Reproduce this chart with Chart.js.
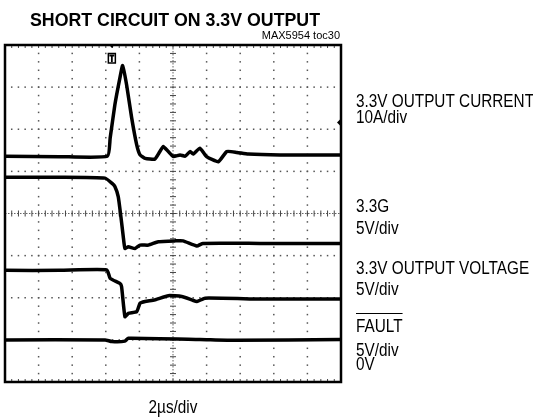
<!DOCTYPE html>
<html>
<head>
<meta charset="utf-8">
<script src="https://cdn.jsdelivr.net/npm/chart.js@4/dist/chart.umd.min.js"></script>
<style>
  html, body { margin: 0; padding: 0; background: #fff; }
  #wrap { width: 533px; height: 418px; }
</style>
</head>
<body>
<div id="wrap"><canvas id="scope" width="533" height="418"></canvas></div>
<script>
// time axis in divisions (2us/div), amplitude in screen divisions (0 = bottom)
const currentT = [0, 1.64, 3.05, 3.13, 3.27, 3.42, 3.50, 3.62, 3.77, 3.92, 4.02, 4.17, 4.46, 4.61, 4.71, 4.86, 5.01, 5.21, 5.36, 5.51, 5.60, 5.80, 6.00, 6.35, 6.60, 6.90, 7.24, 8.19, 10];
const currentV = [5.36, 5.35, 5.36, 5.79, 6.58, 7.22, 7.51, 7.05, 6.27, 5.63, 5.39, 5.31, 5.29, 5.47, 5.59, 5.47, 5.35, 5.39, 5.36, 5.47, 5.41, 5.55, 5.35, 5.23, 5.47, 5.45, 5.41, 5.39, 5.39];

const gateT = [0, 1.64, 2.98, 3.18, 3.27, 3.37, 3.45, 3.52, 3.57, 3.67, 3.87, 4.02, 4.27, 4.56, 5.06, 5.30, 5.71, 5.89, 7.59, 10];
const gateV = [4.86, 4.86, 4.84, 4.72, 4.64, 4.40, 3.92, 3.45, 3.17, 3.21, 3.17, 3.25, 3.25, 3.33, 3.35, 3.35, 3.23, 3.29, 3.29, 3.29];

const voutT = [0, 1.64, 3.03, 3.13, 3.42, 3.47, 3.57, 3.67, 3.92, 4.02, 4.17, 4.46, 4.86, 5.26, 5.56, 5.71, 5.95, 7.59, 10];
const voutV = [2.65, 2.65, 2.66, 2.46, 2.34, 2.26, 1.55, 1.63, 1.67, 1.87, 1.91, 1.95, 2.05, 2.03, 1.95, 1.91, 1.99, 1.97, 1.97];

const faultT = [0, 2.98, 3.18, 3.57, 3.67, 5.80, 6.85, 10];
const faultV = [1.00, 1.00, 0.96, 0.97, 1.04, 1.01, 0.99, 1.01];

const TRIGGER_T = 3.18;
const CH1_MARK = 6.16;

const FONT = '"Liberation Sans", Arial, Helvetica, sans-serif';

function pts(xs, ys) {
  return xs.map((x, i) => ({ x: x, y: ys[i] }));
}

function trace(data) {
  return {
    data: data,
    borderColor: "#000",
    borderWidth: 3.5,
    pointRadius: 0,
    tension: 0.15,
    fill: false,
  };
}

function text(ctx, str, x, y, font, sx, align) {
  ctx.save();
  ctx.font = font;
  ctx.textAlign = align || "left";
  ctx.textBaseline = "alphabetic";
  ctx.translate(x, y);
  ctx.scale(sx, 1);
  ctx.fillText(str, 0, 0);
  ctx.restore();
}

const scopeGrid = {
  id: "scopeGrid",
  beforeDatasetsDraw(chart) {
    const ctx = chart.ctx;
    const xs = chart.scales.x, ys = chart.scales.y;
    const L = xs.getPixelForValue(0), R = xs.getPixelForValue(10);
    const T = ys.getPixelForValue(8), B = ys.getPixelForValue(0);
    ctx.save();
    ctx.fillStyle = "#555";
    // dotted division lines
    for (let i = 1; i < 10; i++) {
      if (i === 5) continue;
      const x = xs.getPixelForValue(i);
      for (let j = 1; j < 40; j++) {
        const y = ys.getPixelForValue(j / 5);
        ctx.fillRect(x - 0.75, y - 0.75, 1.5, 1.5);
      }
    }
    for (let j = 1; j < 8; j++) {
      if (j === 4) continue;
      const y = ys.getPixelForValue(j);
      for (let i = 1; i < 50; i++) {
        const x = xs.getPixelForValue(i / 5);
        ctx.fillRect(x - 0.75, y - 0.75, 1.5, 1.5);
      }
    }
    // center cross with minor ticks
    const cx = xs.getPixelForValue(5), cy = ys.getPixelForValue(4);
    ctx.strokeStyle = "#666";
    ctx.lineWidth = 1;
    ctx.setLineDash([1.5, 1.5]);
    ctx.beginPath();
    ctx.moveTo(cx, T); ctx.lineTo(cx, B);
    ctx.moveTo(L, cy); ctx.lineTo(R, cy);
    ctx.stroke();
    ctx.setLineDash([]);
    ctx.strokeStyle = "#444";
    ctx.beginPath();
    for (let j = 1; j < 40; j++) {
      const y = ys.getPixelForValue(j / 5);
      ctx.moveTo(cx - 3, y); ctx.lineTo(cx + 3, y);
    }
    for (let i = 1; i < 50; i++) {
      const x = xs.getPixelForValue(i / 5);
      ctx.moveTo(x, cy - 3); ctx.lineTo(x, cy + 3);
      ctx.moveTo(x, T); ctx.lineTo(x, T + 3);
      ctx.moveTo(x, B); ctx.lineTo(x, B - 3);
    }
    ctx.stroke();
    ctx.restore();
  },
  afterDatasetsDraw(chart) {
    const ctx = chart.ctx;
    const xs = chart.scales.x, ys = chart.scales.y;
    const L = xs.getPixelForValue(0), R = xs.getPixelForValue(10);
    const T = ys.getPixelForValue(8), B = ys.getPixelForValue(0);
    ctx.save();
    ctx.strokeStyle = "#000";
    ctx.lineWidth = 2.5;
    ctx.strokeRect(L, T, R - L, B - T);

    // trigger marker
    const tx = xs.getPixelForValue(TRIGGER_T);
    ctx.fillStyle = "#000";
    ctx.beginPath();
    ctx.moveTo(tx - 2.5, T); ctx.lineTo(tx + 2.5, T); ctx.lineTo(tx, T + 3);
    ctx.closePath();
    ctx.fill();
    ctx.lineWidth = 1.5;
    ctx.strokeRect(tx - 3.5, T + 8.5, 7, 9.5);
    ctx.lineWidth = 1.8;
    ctx.beginPath();
    ctx.moveTo(tx - 2.5, T + 10.5); ctx.lineTo(tx + 2.5, T + 10.5);
    ctx.moveTo(tx, T + 10.5); ctx.lineTo(tx, T + 17);
    ctx.stroke();

    // channel reference marker on the right edge
    const my = ys.getPixelForValue(CH1_MARK);
    ctx.beginPath();
    ctx.moveTo(R - 4, my); ctx.lineTo(R, my - 4); ctx.lineTo(R + 1, my); ctx.lineTo(R, my + 4);
    ctx.closePath();
    ctx.fill();
    ctx.restore();
  },
  afterDraw(chart) {
    const ctx = chart.ctx;
    ctx.save();
    ctx.fillStyle = "#000";
    // title
    ctx.font = "bold 19px " + FONT;
    const title = "SHORT CIRCUIT ON 3.3V OUTPUT";
    const tsx = 290 / ctx.measureText(title).width;
    text(ctx, title, 30, 26, "bold 19px " + FONT, tsx, "left");
    text(ctx, "MAX5954 toc30", 340, 39, "11px " + FONT, 1, "right");

    // right-hand labels
    const lf = "18px " + FONT;
    ctx.font = lf;
    const sx = 178 / ctx.measureText("3.3V OUTPUT CURRENT").width;
    const lx = 356;
    const rows = [
      ["3.3V OUTPUT CURRENT", 107],
      ["10A/div", 123],
      ["3.3G", 212],
      ["5V/div", 234],
      ["3.3V OUTPUT VOLTAGE", 274],
      ["5V/div", 295],
      ["FAULT", 332],
      ["5V/div", 356],
      ["0V", 370],
    ];
    rows.forEach(([s, y]) => text(ctx, s, lx, y, lf, sx, "left"));
    ctx.font = lf;
    const fw = ctx.measureText("FAULT").width * sx;
    ctx.strokeStyle = "#000";
    ctx.lineWidth = 1.2;
    ctx.beginPath();
    ctx.moveTo(lx, 313.5); ctx.lineTo(lx + fw, 313.5);
    ctx.stroke();

    text(ctx, "2\u00b5s/div", chart.scales.x.getPixelForValue(5), 413, lf, sx, "center");
    ctx.restore();
  },
};

new Chart(document.getElementById("scope"), {
  type: "line",
  data: {
    datasets: [
      trace(pts(currentT, currentV)),
      trace(pts(gateT, gateV)),
      trace(pts(voutT, voutV)),
      trace(pts(faultT, faultV)),
    ],
  },
  options: {
    responsive: false,
    animation: false,
    devicePixelRatio: 1,
    layout: { padding: { left: 5, right: 192, top: 45, bottom: 36 } },
    plugins: { legend: { display: false }, tooltip: { enabled: false } },
    scales: {
      x: { type: "linear", min: 0, max: 10, display: false },
      y: { type: "linear", min: 0, max: 8, display: false },
    },
  },
  plugins: [scopeGrid],
});
</script>
</body>
</html>
